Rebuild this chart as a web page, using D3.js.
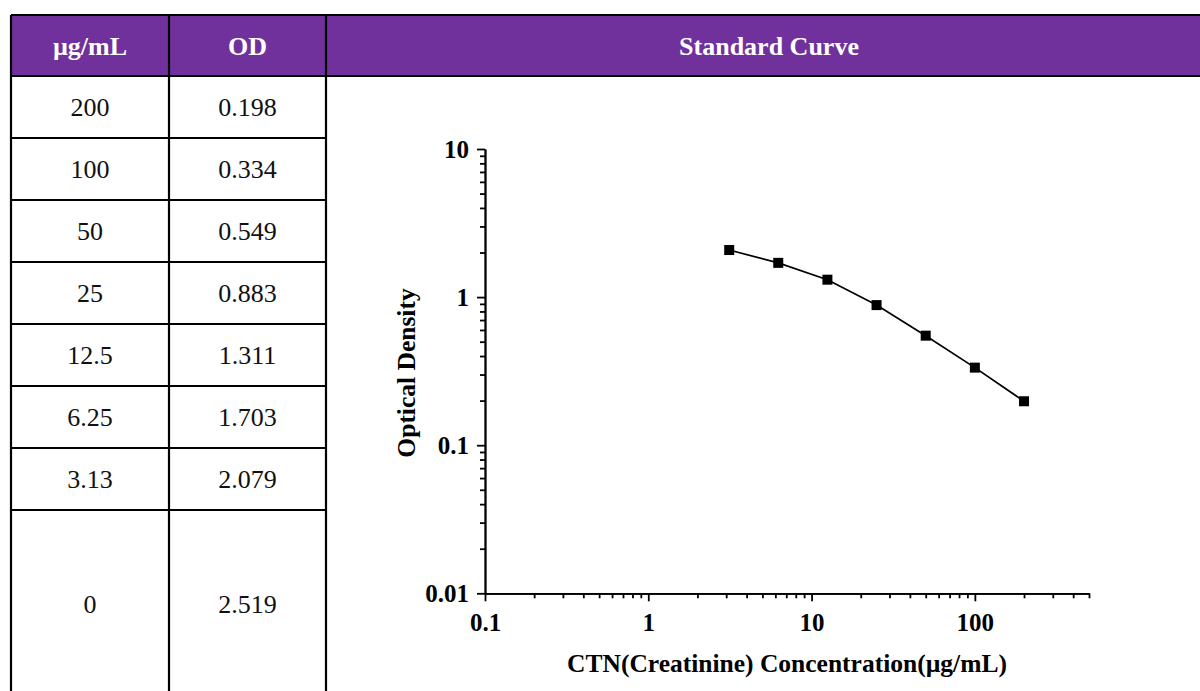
<!DOCTYPE html>
<html>
<head>
<meta charset="utf-8">
<script src="https://cdn.jsdelivr.net/npm/d3@7"></script>
<style>
html,body{margin:0;padding:0;background:#fff;}
svg{display:block;}
text{font-family:"Liberation Serif","Times New Roman",serif;}
</style>
</head>
<body>
<svg id="chart" width="1200" height="691"></svg>
<script>
// ---- data ----
const headers = ["µg/mL", "OD", "Standard Curve"];
const concLabels = ["200", "100", "50", "25", "12.5", "6.25", "3.13", "0"];
const odLabels = ["0.198", "0.334", "0.549", "0.883", "1.311", "1.703", "2.079", "2.519"];
const concValues = [200, 100, 50, 25, 12.5, 6.25, 3.13, 0];
const odValues = [0.198, 0.334, 0.549, 0.883, 1.311, 1.703, 2.079, 2.519];
const xTickValues = [0.1, 1, 10, 100];
const xTickLabels = ["0.1", "1", "10", "100"];
const yTickValues = [10, 1, 0.1, 0.01];
const yTickLabels = ["10", "1", "0.1", "0.01"];
const xTitle = "CTN(Creatinine) Concentration(µg/mL)";
const yTitle = "Optical Density";

const SERIF = "'Liberation Serif','Times New Roman',serif";

// ---- table layout ----
const svg = d3.select("#chart");
const purple = "#70319c";
const colX = [11, 169, 326, 1214];
const headTop = 15, headBottom = 76, rowH = 62, tableBottom = 697;
const rowY = d3.range(concLabels.length).map(i => headBottom + i * rowH);
const rowBottoms = rowY.map((y, i) => i < concLabels.length - 1 ? y + rowH : tableBottom);

svg.append("rect").attr("x", colX[0]).attr("y", headTop)
  .attr("width", colX[3] - colX[0]).attr("height", headBottom - headTop).attr("fill", purple);

const hx = [(colX[0] + colX[1]) / 2, (colX[1] + colX[2]) / 2, 769];
svg.selectAll("text.head").data(headers).join("text").attr("class", "head")
  .attr("x", (d, i) => hx[i]).attr("y", (headTop + headBottom) / 2 + 9)
  .attr("text-anchor", "middle").attr("font-family", SERIF).attr("font-weight", "bold").attr("font-size", 26)
  .attr("fill", "#fff").text(d => d);

const rows = concLabels.map((c, i) => ({c, od: odLabels[i], y0: rowY[i], y1: rowBottoms[i]}));
svg.selectAll("text.conc").data(rows).join("text").attr("class", "conc")
  .attr("x", hx[0]).attr("y", d => (d.y0 + d.y1) / 2 + 9)
  .attr("text-anchor", "middle").attr("font-family", SERIF).attr("font-size", 26).attr("fill", "#111").text(d => d.c);
svg.selectAll("text.od").data(rows).join("text").attr("class", "od")
  .attr("x", hx[1]).attr("y", d => (d.y0 + d.y1) / 2 + 9)
  .attr("text-anchor", "middle").attr("font-family", SERIF).attr("font-size", 26).attr("fill", "#111").text(d => d.od);

// grid lines
const lw = 2.2;
const g = svg.append("g").attr("stroke", "#000").attr("stroke-width", lw);
g.append("line").attr("x1", colX[0]).attr("x2", colX[3]).attr("y1", headTop).attr("y2", headTop);
g.append("line").attr("x1", colX[0]).attr("x2", colX[3]).attr("y1", headBottom).attr("y2", headBottom);
g.selectAll("line.rowline").data(rowY.slice(1)).join("line").attr("class", "rowline")
  .attr("x1", colX[0]).attr("x2", colX[2]).attr("y1", d => d).attr("y2", d => d);
g.selectAll("line.colline").data(colX.slice(0, 3)).join("line").attr("class", "colline")
  .attr("x1", d => d).attr("x2", d => d).attr("y1", headTop).attr("y2", tableBottom);

// ---- chart ----
const x = d3.scaleLog().domain([0.1, 500]).range([485, 1089]);
const y = d3.scaleLog().domain([0.01, 10]).range([593.3, 149]);

function minors(lo, hi, max) {
  const out = [];
  for (let p = lo; p < hi; p++) {
    for (let k = 2; k <= 9; k++) {
      const v = k * Math.pow(10, p);
      if (v <= max * 1.0001) out.push(v);
    }
  }
  return out;
}
const xMinor = minors(-1, 3, 500);
const yMinor = minors(-2, 1, 10);

const axisStroke = 1.8;
const x0 = y(0.01), y0 = x(0.1);
const axMinor = svg.append("g").attr("transform", `translate(0,${x0})`)
  .call(d3.axisBottom(x).tickValues(xMinor).tickSize(5).tickSizeOuter(0).tickFormat(""));
const ax = svg.append("g").attr("transform", `translate(0,${x0})`)
  .call(d3.axisBottom(x).tickValues(xTickValues).tickSize(8).tickSizeOuter(0).tickPadding(12)
  .tickFormat((d, i) => xTickLabels[i]));
const ayMinor = svg.append("g").attr("transform", `translate(${y0},0)`)
  .call(d3.axisLeft(y).tickValues(yMinor).tickSize(5).tickSizeOuter(0).tickFormat(""));
const ay = svg.append("g").attr("transform", `translate(${y0},0)`)
  .call(d3.axisLeft(y).tickValues(yTickValues).tickSize(8).tickSizeOuter(0).tickPadding(8)
  .tickFormat((d, i) => yTickLabels[i]));

[axMinor, ax, ayMinor, ay].forEach(a => {
  a.selectAll("path.domain").attr("stroke", "#000").attr("stroke-width", axisStroke);
  a.selectAll(".tick line").attr("stroke", "#000").attr("stroke-width", axisStroke);
  a.selectAll(".tick text").attr("font-family", SERIF)
    .attr("font-weight", "bold").attr("font-size", 25).attr("fill", "#000");
});

// titles
svg.append("text").attr("x", 787).attr("y", 672).attr("text-anchor", "middle").attr("font-family", SERIF)
  .attr("font-weight", "bold").attr("font-size", 25.5).attr("fill", "#000").text(xTitle);
svg.append("text").attr("transform", "translate(415,373) rotate(-90)").attr("text-anchor", "middle")
  .attr("font-family", SERIF)
  .attr("font-weight", "bold").attr("font-size", 25.5).attr("fill", "#000").text(yTitle);

// data (only positive concentrations on log axis)
const pts = concValues.map((c, i) => ({c, od: odValues[i]})).filter(d => d.c > 0);
svg.append("path").datum(pts)
  .attr("d", d3.line().x(d => x(d.c)).y(d => y(d.od)))
  .attr("fill", "none").attr("stroke", "#000").attr("stroke-width", 1.7);
const ms = 10;
svg.selectAll("rect.pt").data(pts).join("rect").attr("class", "pt")
  .attr("x", d => x(d.c) - ms / 2).attr("y", d => y(d.od) - ms / 2)
  .attr("width", ms).attr("height", ms).attr("fill", "#000");
</script>
</body>
</html>
